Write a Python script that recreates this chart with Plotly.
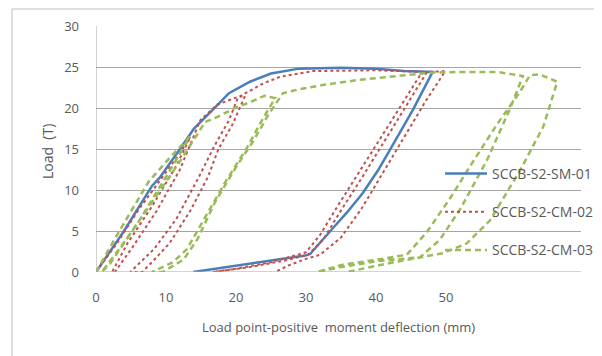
import plotly.graph_objects as go

# SCCB-S2-SM-01 (blue solid)
sm01_x = [0, 4, 8, 9.1, 12, 14, 16.7, 19, 22, 25, 29, 35, 40, 44, 48.1,
          45.3, 42, 40.3, 38.1, 35.8, 33.9, 30.6, 29.9, 20, 13.9]
sm01_y = [0, 5, 10.5, 11.5, 15, 17.5, 19.8, 21.8, 23.2, 24.2, 24.8, 24.9, 24.8, 24.5, 24.4,
          19.8, 14.9, 12.4, 9.6, 7.2, 5.4, 2.2, 2.0, 0.8, 0]

# SCCB-S2-CM-02 (red dotted)
cm02_x = [0, 3, 6, 9, 12, 13.5,
          11.5, 8, 4.5, 2.3,
          2.7, 5.2, 8.7, 12, 14.9, 17.3, 20.1, 21.3,
          19.5, 17.5, 16, 13.5, 10.5, 8, 6.6,
          4.9, 8.3, 11.5, 14.7, 17, 19, 20.3, 21.6, 23.9, 26.3, 31, 40, 46.6,
          43, 40, 37, 34.5, 32, 30, 25, 20, 16.7,
          22, 27, 30.3, 32.5, 35, 38, 41, 44, 47.3, 49.9,
          47, 44, 40.6, 38, 35, 32, 30, 27.5, 25.6]
cm02_y = [0, 3.5, 7.5, 11, 14.5, 16.5,
          13, 8, 3.5, 0,
          0, 3, 7.5, 12.5, 18.5, 20.4, 21.3, 21.5,
          18, 15, 11.6, 7.5, 3.5, 1.2, 0,
          0, 2.8, 6.5, 11.6, 15.5, 18.5, 21.3, 21.9, 23, 23.8, 24.5, 24.6, 24.4,
          19.5, 15.5, 11.5, 8, 4.5, 2.4, 1.2, 0.4, 0,
          0.6, 1.4, 2.1, 4, 7.5, 11.5, 15.7, 19.8, 24.4, 24.5,
          20.7, 16.4, 11.5, 7.8, 4.2, 2.1, 1.6, 0.8, 0]

# SCCB-S2-CM-03 (green dashed)
cm03_x = [0, 3, 7.5, 10.6, 13.4,
          11, 6, 2, 0.8,
          3.5, 8, 12, 15.6, 17.3, 20.1, 22, 24.1, 25.6,
          23.5, 21.6, 18.5, 15.5, 13, 11, 8,
          9.5, 12.5, 14.5, 17, 20, 22.5, 24.5, 26.7, 29.1, 32.4, 37.3, 42, 47.7, 52, 57.3, 61,
          59.1, 55.9, 52, 49.1, 46.3, 40, 35, 31.6,
          35.3, 40.1, 44.4, 47.3, 50.6, 53.9, 57.3, 60.6, 62, 63.4, 65.9,
          63.9, 60.6, 56.3, 53, 49.6, 42, 35.9]
cm03_y = [0, 4.5, 11, 14, 16.5,
          13, 6, 1, 0,
          3, 8.5, 13.5, 18.3, 18.9, 20.1, 20.7, 21.5, 21.2,
          18.2, 15.2, 11, 6.5, 2.8, 1.2, 0,
          0, 1.5, 4, 8.5, 12.8, 16, 19, 21.8, 22.3, 22.8, 23.4, 23.8, 24.3, 24.4, 24.4, 23.9,
          19.8, 13.7, 7.6, 3.9, 1.8, 1.3, 0.6, 0,
          0.9, 1.5, 2.1, 4.9, 9.0, 13.5, 18.0, 22.0, 24.0, 24.1, 23.2,
          17.7, 12.4, 6.3, 3.5, 2.3, 1.1, 0]

x_ticks = [0, 10, 20, 30, 40, 50]
y_ticks = [0, 5, 10, 15, 20, 25, 30]

txt = "#595959"
font = "Open Sans"

fig = go.Figure()
fig.add_trace(go.Scatter(x=sm01_x, y=sm01_y, mode="lines", name="SCCB-S2-SM-01",
                         legendgroup="a",
                         line=dict(color="#4A7EBB", width=2.5)))
fig.add_trace(go.Scatter(x=cm02_x, y=cm02_y, mode="lines", name="SCCB-S2-CM-02",
                         legendgroup="b",
                         line=dict(color="#C0504D", width=2, dash="dot")))
fig.add_trace(go.Scatter(x=cm03_x, y=cm03_y, mode="lines", name="SCCB-S2-CM-03",
                         legendgroup="c",
                         line=dict(color="#9BBB59", width=2.5, dash="6px,4px")))

# page body has an 8px offset; work in figure coordinates (window - 8)
OFF = 8
W, H = 602 - OFF, 356 - OFF
L, T = 96 - OFF, 26 - OFF
R = W - (581 - OFF)
B = H - (272 - OFF)
pw, ph = W - L - R, H - T - B
bottom = 272 - OFF


def px(xw):
    return (xw - OFF - L) / pw


def py(yw):
    return (bottom - (yw - OFF)) / ph


fig.update_layout(
    width=W, height=H,
    margin=dict(l=L, r=R, t=T, b=B, pad=0, autoexpand=False),
    paper_bgcolor="white", plot_bgcolor="white",
    font=dict(family=font, size=12, color=txt),
    showlegend=True,
    legend=dict(x=px(440), y=py(158),
                xanchor="left", yanchor="top",
                bgcolor="rgba(0,0,0,0)", font=dict(size=14, color=txt, family=font),
                tracegroupgap=17, traceorder="grouped", itemwidth=42),
    xaxis=dict(range=[0, 69.3], tickvals=x_ticks, ticktext=[str(v) for v in x_ticks],
               showgrid=False, zeroline=False, showline=False, automargin=False,
               ticks="", tickfont=dict(size=13, color=txt), ticklabelstandoff=16),
    yaxis=dict(range=[0, 30], tickvals=y_ticks, ticktext=[str(v) for v in y_ticks],
               showgrid=True, gridcolor="#A6A6A6", gridwidth=1, automargin=False,
               zeroline=False, showline=False,
               ticks="", tickfont=dict(size=13, color=txt), ticklabelstandoff=16),
    shapes=[
        dict(type="line", xref="x", yref="paper", x0=0, x1=0, y0=0, y1=1,
             line=dict(color="#A6A6A6", width=1)),
        dict(type="line", xref="paper", yref="y", x0=0, x1=1, y0=0, y1=0,
             line=dict(color="#A6A6A6", width=1)),
        dict(type="rect", xref="paper", yref="paper",
             x0=px(12), x1=px(599),
             y0=py(370), y1=py(9),
             line=dict(color="#BFBFBF", width=1), layer="below"),
    ],
    annotations=[
        dict(text="Load  (T)", xref="paper", yref="paper",
             x=px(47), y=py(152), textangle=-90,
             showarrow=False, font=dict(size=14, color=txt, family=font),
             xanchor="center", yanchor="middle"),
        dict(text="Load point-positive  moment deflection (mm)", xref="paper", yref="paper",
             x=px(338), y=py(327),
             showarrow=False, font=dict(size=13, color=txt, family=font),
             xanchor="center", yanchor="middle"),
    ],
)

fig.write_html("out.html")
